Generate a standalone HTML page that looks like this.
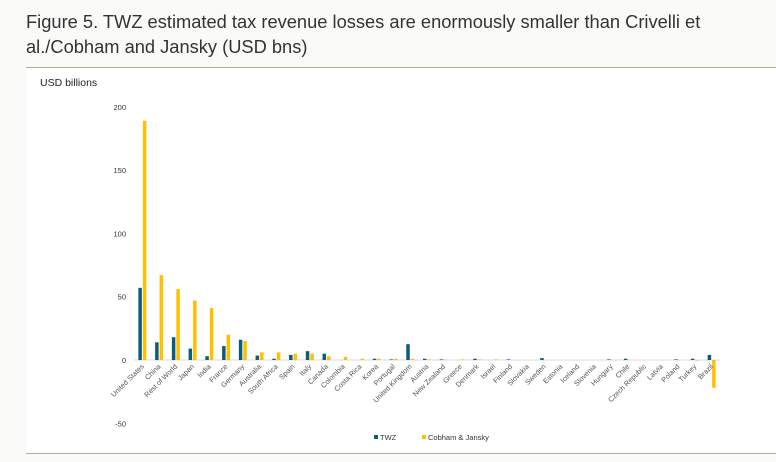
<!DOCTYPE html>
<html><head><meta charset="utf-8"><style>
body{margin:0;background:#fafaf8;width:776px;height:462px;overflow:hidden;font-family:"Liberation Sans",sans-serif;}
#title{position:absolute;left:26px;top:9px;font-size:18.3px;line-height:25px;color:#333;width:740px;}
#panel{position:absolute;left:26px;top:67px;width:750px;height:385px;background:#fff;border-top:1px solid #b9ab95;border-bottom:1px solid #b9ab95;}
</style></head><body>
<div id="title">Figure 5. TWZ estimated tax revenue losses are enormously smaller than Crivelli et al./Cobham and Jansky (USD bns)</div>
<div id="panel"></div>
<svg id="chart" width="776" height="462" style="position:absolute;left:0;top:0"></svg>
<script>
const categories=["United States","China","Rest of World","Japan","India","France","Germany","Australia","South Africa","Spain","Italy","Canada","Colombia","Costa Rica","Korea","Portugal","United Kingdom","Austria","New Zealand","Greece","Denmark","Israel","Finland","Slovakia","Sweden","Estonia","Iceland","Slovenia","Hungary","Chile","Czech Republic","Latvia","Poland","Turkey","Brazil"];
const twz=[57,14,18,9,3,11,16,3.5,1,4,7,5,0,0,1,0.5,12.5,1,0.5,0,1,0,0.5,0,1.5,0,0,0,0.5,1,0,0,0.5,1,4];
const cj=[189,67,56,47,41,20,15,6,6,5,5,3,2.5,1,1,1,1,0.5,0.3,0.5,0.5,0.5,0,0,0,0,0,0,0,0,0,0,0,-0.5,-22];
const yTicks=[200,150,100,50,0,-50];
const svg=document.getElementById('chart');
const NS='http://www.w3.org/2000/svg';
const x0=134,x1=720;
const step=(x1-x0)/categories.length;
function xc(i){return x0+step*(i+0.5);}
function y(v){return 360-v*1.266;}
function mk(t,a){const e=document.createElementNS(NS,t);for(const k in a)e.setAttribute(k,a[k]);svg.appendChild(e);return e;}
let t=mk('text',{x:40,y:86,'font-size':10.5,fill:'#222'});t.textContent='USD billions';


yTicks.forEach(v=>{const e=mk('text',{x:126,y:y(v)+3,'font-size':7.5,fill:'#333','text-anchor':'end'});e.textContent=v;

});
const ax=mk('line',{x1:x0,x2:x1,y1:y(0),y2:y(0),stroke:'#d9d9d9','stroke-width':1});


function bar(v,x,c){const r=mk('rect',{x:x,y:Math.min(y(v),y(0)),width:3.5,height:Math.abs(y(v)-y(0)),fill:c});return r;}
categories.forEach((c,i)=>{
 const cx=xc(i);
 const a=bar(twz[i],cx-4,'#0e5d77');
 
 
 const b=bar(cj[i],cx+0.5,'#ffc000');
 
 
 const l=mk('text',{x:cx+2,y:y(0)+7,'font-size':7.2,fill:'#555','text-anchor':'end',transform:`rotate(-45 ${cx+2} ${y(0)+7})`});
 l.textContent=c;
 
 
});
[[374,'#0e5d77','TWZ'],[422,'#ffc000','Cobham & Jansky']].forEach(([lx,col,txt])=>{
 const g=mk('g',{});
 
 
 const r=document.createElementNS(NS,'rect');r.setAttribute('x',lx);r.setAttribute('y',435);r.setAttribute('width',4);r.setAttribute('height',4);r.setAttribute('fill',col);g.appendChild(r);
 const tt=document.createElementNS(NS,'text');tt.setAttribute('x',lx+6);tt.setAttribute('y',440);tt.setAttribute('font-size',7.5);tt.setAttribute('fill','#333');tt.textContent=txt;g.appendChild(tt);
});
</script>
</body></html>
